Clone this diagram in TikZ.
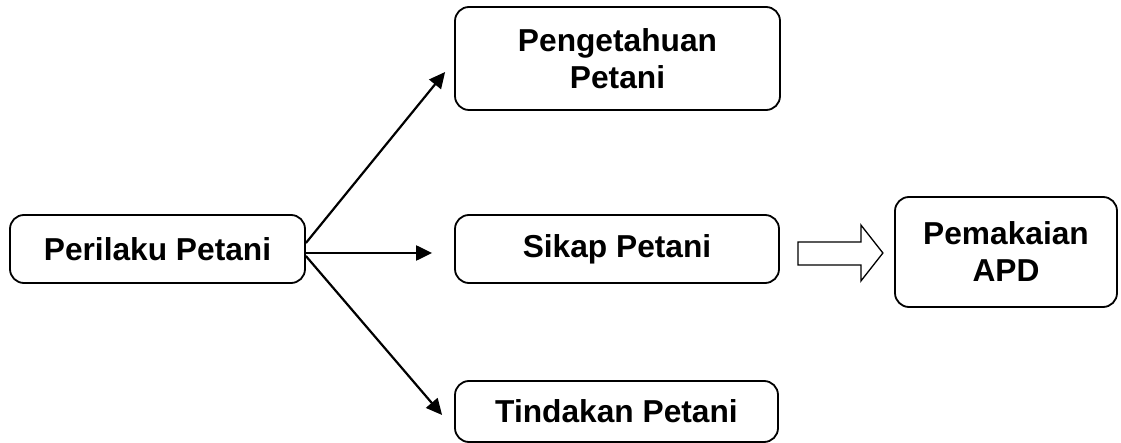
\documentclass[tikz,border=0pt]{standalone}
\usepackage{fontspec}
\setmainfont{Liberation Sans}
\usetikzlibrary{arrows.meta}
\begin{document}
\begin{tikzpicture}[x=1pt,y=-1pt,
  box/.style={draw=black, line width=1.8pt, rounded corners=14pt, inner sep=0pt,
    align=center, font=\fontsize{31.7}{37}\selectfont\bfseries},
  conn/.style={line width=2.2pt, -{Triangle[length=16pt,width=15pt]}}]
\useasboundingbox (0,0) rectangle (1121,443);
\node[box, minimum width=295pt, minimum height=68pt] (P) at (157.5,249) {Perilaku Petani};
\node[box, minimum width=325pt, minimum height=103pt] (K) at (617.5,58.5) {Pengetahuan\\Petani};
\node[box, minimum width=324pt, minimum height=68pt] (S) at (617,249) {Sikap Petani};
\node[box, minimum width=323pt, minimum height=61pt] (T) at (616.5,411.5) {Tindakan Petani};
\node[box, minimum width=222pt, minimum height=110pt] (A) at (1006,252) {Pemakaian\\APD};
\coordinate (k1) at ([xshift=-9pt,yshift=-13.5pt]K.west);
\coordinate (s1) at ([xshift=-22pt,yshift=-4pt]S.west);
\coordinate (t1) at ([xshift=-12pt,yshift=-3.5pt]T.west);
\draw[conn] ([yshift=6pt]P.east) -- (k1);
\draw[conn] ([yshift=-4pt]P.east) -- (s1);
\draw[conn] ([yshift=-7pt]P.east) -- (t1);
\draw[line width=1.3pt, fill=white]
  ([xshift=18pt,yshift=7pt]S.east) -- ++(63,0) -- ++(0,-17) -- ++(22,28)
  -- ++(-22,28) -- ++(0,-16) -- ++(-63,0) -- cycle;
\end{tikzpicture}
\end{document}
